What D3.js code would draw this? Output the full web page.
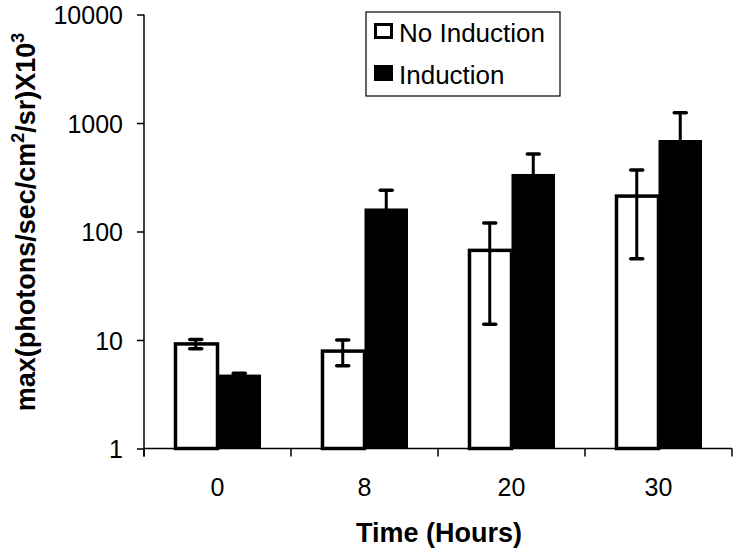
<!DOCTYPE html>
<html>
<head>
<meta charset="utf-8">
<script src="https://d3js.org/d3.v7.min.js"></script>
<style>
  html, body { margin: 0; padding: 0; background: #fff; }
  svg { display: block; }
  text { font-family: "Liberation Sans", Arial, Helvetica, sans-serif; fill: #000; }
</style>
</head>
<body>
<svg id="chart" width="737" height="554"></svg>
<script>
const categories = ["0", "8", "20", "30"];
const seriesNames = ["No Induction", "Induction"];
const noInduction = [9.2, 7.9, 67, 212];
const noInductionErr = [0.9, 2.1, 53, 156];
const induction = [4.8, 163, 339, 697];
const inductionErr = [0.15, 77, 179, 548];
const yTicks = [1, 10, 100, 1000, 10000];

const svg = d3.select("#chart");
const mLeft = 144, mRight = 732, mTop = 14.5, mBottom = 448.5;

const y = d3.scaleLog().domain([1, 10000]).range([mBottom, mTop]);
const pad = 0.408;
const x = d3.scaleBand().domain(categories).range([mLeft, mRight])
  .paddingInner(pad).paddingOuter(pad / 2);
const x1 = d3.scaleBand().domain(seriesNames).range([0, x.bandwidth()]);

const rows = categories.map((c, i) => [
  { cat: c, s: seriesNames[0], v: noInduction[i], e: noInductionErr[i] },
  { cat: c, s: seriesNames[1], v: induction[i], e: inductionErr[i] }
]).flat();

// Y axis
const yAxis = svg.append("g")
  .attr("transform", `translate(${mLeft},0)`)
  .call(d3.axisLeft(y).tickValues(yTicks).tickFormat(d3.format("d")).tickSize(7).tickPadding(14));
yAxis.select(".domain").attr("d", `M0,${mTop}V${mBottom + 8}`).attr("stroke", "#000").attr("stroke-width", 1.5);
yAxis.selectAll(".tick line").attr("stroke", "#000").attr("stroke-width", 1.5);
yAxis.selectAll(".tick text").attr("font-size", 25).attr("font-family", "Liberation Sans, Arial, sans-serif").attr("dy", "0.36em");

// Bars
const g = svg.append("g");
g.selectAll("rect.bar").data(rows).join("rect")
  .attr("class", "bar")
  .attr("x", d => x(d.cat) + x1(d.s) + (d.s === seriesNames[0] ? 1.5 : 0))
  .attr("width", d => x1.bandwidth() - (d.s === seriesNames[0] ? 1.5 : 0))
  .attr("y", d => y(d.v))
  .attr("height", d => mBottom - y(d.v))
  .attr("fill", d => d.s === seriesNames[0] ? "#fff" : "#000")
  .attr("stroke", "#000")
  .attr("stroke-width", d => d.s === seriesNames[0] ? 3.5 : 0);

// Error bars
const cap = 6;
const eb = g.selectAll("g.err").data(rows).join("g").attr("class", "err")
  .attr("transform", d => `translate(${x(d.cat) + x1(d.s) + x1.bandwidth() / 2},0)`);
eb.append("line")
  .attr("y1", d => y(d.v + d.e)).attr("y2", d => y(Math.max(d.v - d.e, 1)))
  .attr("stroke", "#000").attr("stroke-width", 3);
eb.append("line")
  .attr("x1", -cap).attr("x2", cap)
  .attr("y1", d => y(d.v + d.e)).attr("y2", d => y(d.v + d.e))
  .attr("stroke", "#000").attr("stroke-width", 3.5).attr("stroke-linecap", "round");
eb.append("line")
  .attr("x1", -cap).attr("x2", cap)
  .attr("y1", d => y(Math.max(d.v - d.e, 1))).attr("y2", d => y(Math.max(d.v - d.e, 1)))
  .attr("stroke", "#000").attr("stroke-width", 3.5).attr("stroke-linecap", "round");

// X axis
const xAxis = svg.append("g")
  .attr("transform", `translate(0,${mBottom})`)
  .call(d3.axisBottom(x).tickSize(0).tickPadding(30));
xAxis.select(".domain").attr("d", `M${mLeft},0H${mRight}`).attr("stroke", "#000").attr("stroke-width", 1.5);
xAxis.selectAll(".tick text").attr("font-size", 25).attr("font-family", "Liberation Sans, Arial, sans-serif");
const boundaries = d3.range(categories.length + 1).map(i => mLeft + i * x.step());
xAxis.selectAll("line.bt").data(boundaries).join("line")
  .attr("class", "bt")
  .attr("x1", d => d).attr("x2", d => d)
  .attr("y1", 0).attr("y2", 8)
  .attr("stroke", "#000").attr("stroke-width", 1.5);

// Axis titles
svg.append("text")
  .attr("x", 439).attr("y", 542)
  .attr("text-anchor", "middle")
  .attr("font-size", 27).attr("font-weight", "bold")
  .text("Time (Hours)");

const yt = svg.append("text")
  .attr("transform", `translate(35,222) rotate(-90)`)
  .attr("text-anchor", "middle")
  .attr("font-size", 27).attr("font-weight", "bold");
yt.append("tspan").text("max(photons/sec/cm");
yt.append("tspan").attr("font-size", 18).attr("dy", -11).text("2");
yt.append("tspan").attr("dy", 11).text("/sr)X10");
yt.append("tspan").attr("font-size", 18).attr("dy", -11).text("3");

// Legend
const lg = svg.append("g");
lg.append("rect").attr("x", 366).attr("y", 12).attr("width", 194).attr("height", 84)
  .attr("fill", "#fff").attr("stroke", "#000").attr("stroke-width", 1.2);
const items = lg.selectAll("g.item").data(seriesNames).join("g").attr("class", "item")
  .attr("transform", (d, i) => `translate(374,${23 + i * 42})`);
items.append("rect").attr("x", 1.5).attr("y", 1.5).attr("width", 16).attr("height", 13)
  .attr("fill", (d, i) => i === 0 ? "#fff" : "#000")
  .attr("stroke", "#000").attr("stroke-width", 3);
items.append("text").attr("x", 25).attr("y", 19)
  .attr("font-size", 26).text(d => d);
</script>
</body>
</html>
